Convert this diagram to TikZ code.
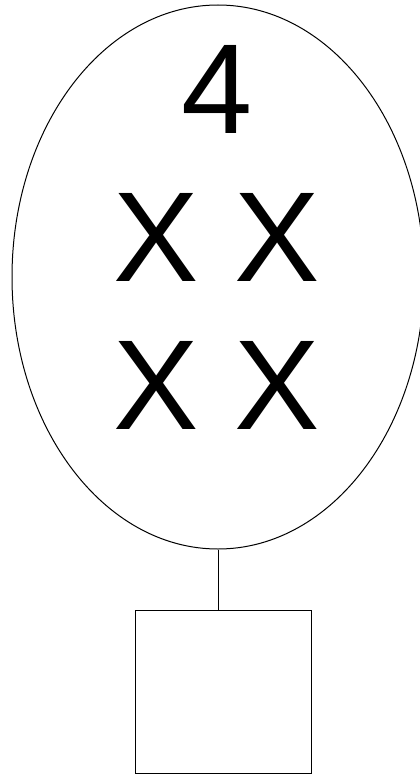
\documentclass[tikz,border=0pt]{standalone}
\usepackage{fontspec}
\setmainfont{Liberation Sans}
\usetikzlibrary{shapes.geometric}
\begin{document}
\begin{tikzpicture}[x=1pt,y=1pt,
  outline/.style={draw=black,line width=1pt},
  bigtext/.style={font=\fontsize{128}{148}\selectfont,align=center,inner sep=0pt}]
\useasboundingbox (0,0) rectangle (420,-776);
\node[outline,ellipse,minimum width=412,minimum height=544,inner sep=0pt] (ell) at (218,-277) {};
\node[bigtext,anchor=north] (txt) at (217,-45) {4\\X X\\X X};
\node[outline,rectangle,minimum width=176,minimum height=163,inner sep=0pt] (box) at (223,-691.5) {};
\draw[outline] (ell.south) -- (ell.south |- box.north);
\end{tikzpicture}
\end{document}
